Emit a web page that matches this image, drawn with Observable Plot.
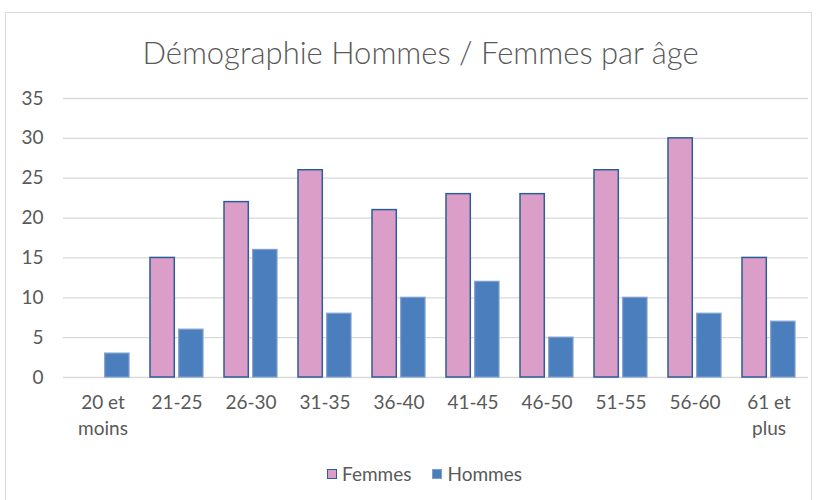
<!DOCTYPE html>
<html>
<head>
<meta charset="utf-8">
<script src="https://cdn.jsdelivr.net/npm/d3@7"></script>
<script src="https://cdn.jsdelivr.net/npm/@observablehq/plot@0.6"></script>
<style>
  html, body { margin: 0; padding: 0; background: #fff; }
  #wrap { position: relative; width: 821px; height: 500px; overflow: hidden; font-family: Lato, "Open Sans", sans-serif; }
  #frame { position: absolute; left: 5px; top: 12px; width: 807px; height: 500px; border: 1px solid #d9d9d9; box-sizing: border-box; }
  #title { position: absolute; left: 0; top: 33px; width: 841px; text-align: center; font-size: 31px; font-weight: 300; color: #595959; line-height: 38px; }
  #chart { position: absolute; left: 0; top: 0; }
  #legend { position: absolute; left: 0; top: 462px; width: 849px; display: flex; justify-content: center; gap: 21px; font-size: 19px; color: #595959; line-height: 24px; }
  .item { display: flex; align-items: center; gap: 5px; }
  .sw { width: 10px; height: 10px; box-sizing: border-box; }
</style>
</head>
<body>
<div id="wrap">
  <div id="frame"></div>
  <div id="title">Démographie Hommes / Femmes par âge</div>
  <div id="chart"></div>
  <div id="legend"></div>
</div>
<script>
const categories = ["20 et moins", "21-25", "26-30", "31-35", "36-40", "41-45", "46-50", "51-55", "56-60", "61 et plus"];
const categoryLabels = ["20 et\nmoins", "21-25", "26-30", "31-35", "36-40", "41-45", "46-50", "51-55", "56-60", "61 et\nplus"];
const series = ["Femmes", "Hommes"];
const femmes = [0, 15, 22, 26, 21, 23, 23, 26, 30, 15];
const hommes = [3, 6, 16, 8, 10, 12, 5, 10, 8, 7];
const yTicks = [0, 5, 10, 15, 20, 25, 30, 35];

const colors = {
  Femmes: {fill: "#DA9EC8", stroke: "#2F5D95"},
  Hommes: {fill: "#4A7EBC", stroke: "#7F9FCB"}
};

const rows = categories.flatMap((c, i) => [
  {cat: c, series: "Femmes", value: femmes[i]},
  {cat: c, series: "Hommes", value: hommes[i]}
]);
const labelOf = Object.fromEntries(categories.map((c, i) => [c, categoryLabels[i]]));

const W = 821, ML = 63, MR = 13, PAD = 0.29, GAP = 4.5;
const bandwidth = (W - ML - MR) / categories.length * (1 - PAD);
const half = bandwidth / 2 + GAP / 2;

const chart = Plot.plot({
  width: W,
  height: 500,
  marginTop: 98,
  marginBottom: 123,
  marginLeft: ML,
  marginRight: MR,
  style: {fontFamily: "Lato, 'Open Sans', sans-serif", background: "transparent"},
  x: {domain: categories, paddingInner: PAD, paddingOuter: PAD / 2, label: null, axis: null},
  y: {domain: [0, 35], axis: null},
  marks: [
    Plot.ruleY(yTicks, {y: d => d, stroke: "#d9d9d9", strokeWidth: 1.3}),
    Plot.text(yTicks, {y: d => d, text: d => String(d), frameAnchor: "left", dx: -20, textAnchor: "end", fontSize: 19, fill: "#595959"}),
    Plot.barY(rows.filter(d => d.series === "Femmes" && d.value > 0), {
      x: "cat", y: "value", insetRight: half,
      fill: colors.Femmes.fill, stroke: colors.Femmes.stroke, strokeWidth: 1.5
    }),
    Plot.barY(rows.filter(d => d.series === "Hommes" && d.value > 0), {
      x: "cat", y: "value", insetLeft: half,
      fill: colors.Hommes.fill, stroke: colors.Hommes.stroke, strokeWidth: 1.2
    }),
    Plot.axisX({anchor: "bottom", tickSize: 0, tickPadding: 14, fontSize: 19, lineHeight: 1.33, fill: "#595959", tickFormat: d => labelOf[d], label: null})
  ]
});
document.getElementById("chart").appendChild(chart);

const legend = document.getElementById("legend");
for (const s of series) {
  const item = document.createElement("div");
  item.className = "item";
  const sw = document.createElement("span");
  sw.className = "sw";
  sw.style.background = colors[s].fill;
  sw.style.border = "1.5px solid " + colors[s].stroke;
  const t = document.createElement("span");
  t.textContent = s;
  item.appendChild(sw);
  item.appendChild(t);
  legend.appendChild(item);
}
</script>
</body>
</html>
